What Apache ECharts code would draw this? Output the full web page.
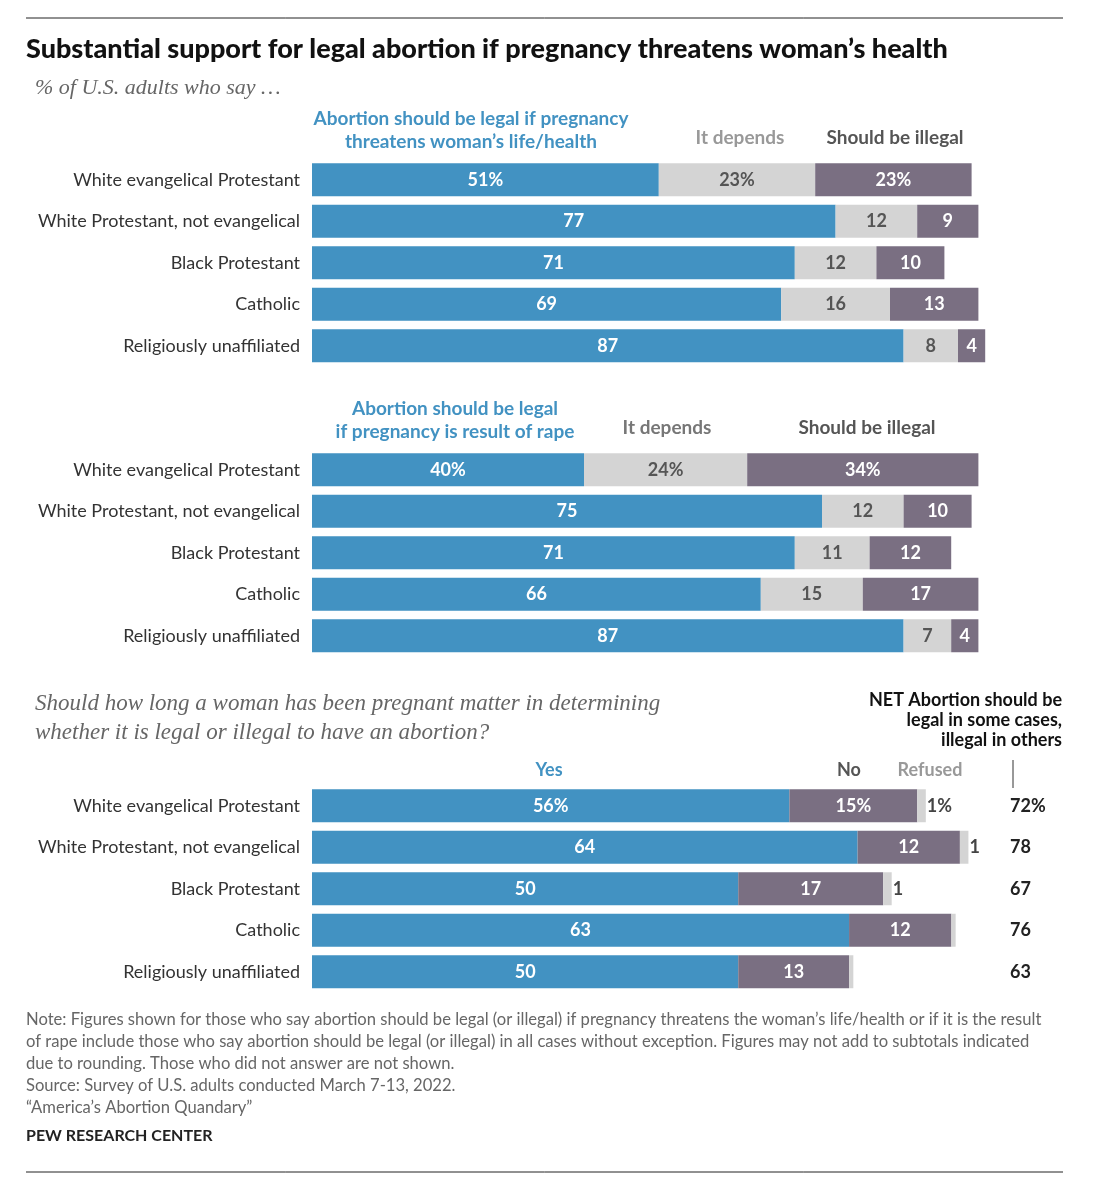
<!DOCTYPE html>
<html><head><meta charset="utf-8">
<script src="https://cdn.jsdelivr.net/npm/echarts@6/dist/echarts.min.js"></script>
<style>html,body{margin:0;background:#fff}#c{width:1105px;height:1200px}</style>
</head><body><div id="c"></div>
<script>
const categories = ["White evangelical Protestant","White Protestant, not evangelical","Black Protestant","Catholic","Religiously unaffiliated"];
const healthLegal = [51,77,71,69,87];
const healthDepends = [23,12,12,16,8];
const healthIllegal = [23,9,10,13,4];
const rapeLegal = [40,75,71,66,87];
const rapeDepends = [24,12,11,15,7];
const rapeIllegal = [34,10,12,17,4];
const timeYes = [56,64,50,63,50];
const timeNo = [15,12,17,12,13];
const timeRefused = [1,1,1,0.5,0.5];
const refusedLabels = ["1%","1","1","",""];
const netValues = ["72%","78","67","76","63"];

const BLUE='#4292c2', GRAY='#d4d4d4', PURP='#7a6f82';
const F='Lato, Noto Sans';
const chart = echarts.init(document.getElementById('c'));
const tops=[159,449,785];
const grids=[{left:312,width:680,top:159,height:207.5},{left:312,width:680,top:449,height:207.5},{left:312,width:682,top:785,height:207.5}];
const xAxes=[0,1,2].map(i=>({gridIndex:i,type:'value',min:0,max:i===2?80:100,show:false}));
const yAxes=[0,1,2].map(i=>({gridIndex:i,type:'category',data:categories,inverse:true,
  axisLine:{show:false},axisTick:{show:false},
  axisLabel:{color:'#333',fontSize:18,fontFamily:F,margin:12}}));
yAxes.push({gridIndex:2,type:'category',data:netValues,inverse:true,position:'right',offset:8,
  axisLine:{show:false},axisTick:{show:false},
  axisLabel:{color:'#222',fontSize:18,fontWeight:'bold',fontFamily:F,align:'left'}});
function lab(color){return {show:true,position:'inside',color:color,fontSize:18,fontWeight:'bold',fontFamily:F,
  formatter:p=>p.dataIndex===0?p.value+'%':p.value};}
function bar(g,data,color,lc,extra){return Object.assign({type:'bar',xAxisIndex:g,yAxisIndex:g,stack:'s'+g,data:data,
  barWidth:33,itemStyle:{color:color},label:lab(lc),silent:true},extra||{});}
const series=[
  bar(0,healthLegal,BLUE,'#fff'),bar(0,healthDepends,GRAY,'#555'),bar(0,healthIllegal,PURP,'#fff'),
  bar(1,rapeLegal,BLUE,'#fff'),bar(1,rapeDepends,GRAY,'#555'),bar(1,rapeIllegal,PURP,'#fff'),
  bar(2,timeYes,BLUE,'#fff'),bar(2,timeNo,PURP,'#fff'),
  bar(2,timeRefused,GRAY,'#555',{label:{show:true,position:'right',distance:1,color:'#444',fontSize:18,fontWeight:'bold',fontFamily:F,formatter:p=>refusedLabels[p.dataIndex]}})
];
function t(x,y,text,o){return {type:'text',x:x,y:y,style:Object.assign({text:text,fontFamily:F,fontSize:19,fill:'#333'},o||{})};}
const note=["Note: Figures shown for those who say abortion should be legal (or illegal) if pregnancy threatens the woman’s life/health or if it is the result",
"of rape include those who say abortion should be legal (or illegal) in all cases without exception. Figures may not add to subtotals indicated",
"due to rounding. Those who did not answer are not shown.","Source: Survey of U.S. adults conducted March 7-13, 2022.","“America’s Abortion Quandary”"];
const graphic=[
 {type:'line',shape:{x1:26,y1:18,x2:1063,y2:18},style:{stroke:'#222',lineWidth:1}},
 {type:'line',shape:{x1:26,y1:1172,x2:1063,y2:1172},style:{stroke:'#222',lineWidth:1}},
 t(26,36,'Substantial support for legal abortion if pregnancy threatens woman’s health',{fontSize:27,fontWeight:900,fill:'#111'}),
 t(35,77,'% of U.S. adults who say …',{fontSize:22,fontStyle:'italic',fontFamily:'Liberation Serif, DejaVu Serif',fill:'#666'}),
 t(471,107,'Abortion should be legal if pregnancy\nthreatens woman’s life/health',{fill:BLUE,fontWeight:'bold',align:'center',lineHeight:23}),
 t(740,128,'It depends',{fill:'#999',fontWeight:'bold',align:'center'}),
 t(895,128,'Should be illegal',{fill:'#555',fontWeight:'bold',align:'center'}),
 t(455,397,'Abortion should be legal\nif pregnancy is result of rape',{fill:BLUE,fontWeight:'bold',align:'center',lineHeight:23}),
 t(667,418,'It depends',{fill:'#777',fontWeight:'bold',align:'center'}),
 t(867,418,'Should be illegal',{fill:'#555',fontWeight:'bold',align:'center'}),
 t(35,689,'Should how long a woman has been pregnant matter in determining\nwhether it is legal or illegal to have an abortion?',{fontSize:23,fontStyle:'italic',fontFamily:'Liberation Serif, DejaVu Serif',fill:'#666',lineHeight:29}),
 t(1062,690,'NET Abortion should be\nlegal in some cases,\nillegal in others',{fontSize:18,fontWeight:'bold',fill:'#111',align:'right',lineHeight:20}),
 {type:'line',shape:{x1:1013,y1:760,x2:1013,y2:788},style:{stroke:'#333',lineWidth:1}},
 t(549,761,'Yes',{fill:BLUE,fontWeight:'bold',align:'center',fontSize:18}),
 t(849,761,'No',{fill:'#555',fontWeight:'bold',align:'center',fontSize:18}),
 t(930,761,'Refused',{fill:'#999',fontWeight:'bold',align:'center',fontSize:18}),
 t(26,1009,note.join('\n'),{fontSize:16.6,fill:'#666',lineHeight:22}),
 t(26,1128,'PEW RESEARCH CENTER',{fontSize:16,fontWeight:'bold',fill:'#222'})
];
chart.setOption({animation:false,grid:grids,xAxis:xAxes,yAxis:yAxes,series:series,graphic:graphic});
</script></body></html>
